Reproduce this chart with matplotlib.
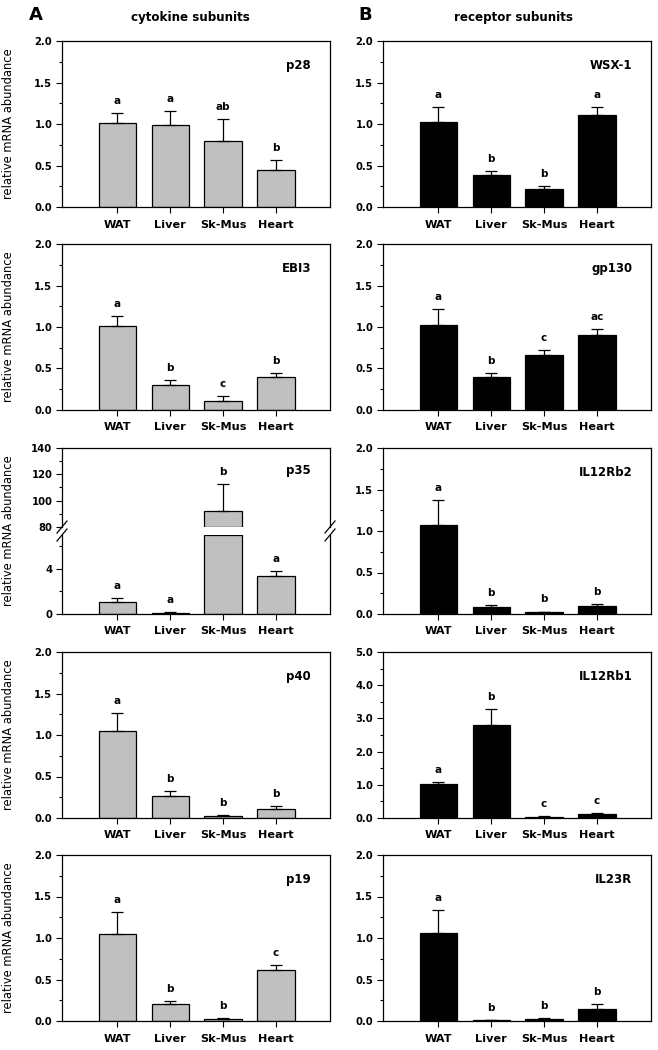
import matplotlib.pyplot as plt
from matplotlib.ticker import MultipleLocator, FixedLocator
import numpy as np

plt.rcParams['font.family'] = ['DejaVu Sans']
plt.rcParams['font.weight'] = 'bold'

tissues = ['WAT', 'Liver', 'Sk-Mus', 'Heart']

# cytokine subunits (column A)
p28 = [1.01, 0.99, 0.79, 0.45]
p28_err = [0.12, 0.17, 0.27, 0.12]
p28_sig = ['a', 'a', 'ab', 'b']

ebi3 = [1.01, 0.30, 0.11, 0.40]
ebi3_err = [0.12, 0.06, 0.06, 0.05]
ebi3_sig = ['a', 'b', 'c', 'b']

p35 = [1.1, 0.12, 92.0, 3.4]
p35_err = [0.3, 0.05, 21.0, 0.45]
p35_sig = ['a', 'a', 'b', 'a']

p40 = [1.05, 0.27, 0.03, 0.11]
p40_err = [0.22, 0.06, 0.01, 0.03]
p40_sig = ['a', 'b', 'b', 'b']

p19 = [1.05, 0.21, 0.03, 0.61]
p19_err = [0.26, 0.03, 0.01, 0.07]
p19_sig = ['a', 'b', 'b', 'c']

# receptor subunits (column B)
wsx1 = [1.03, 0.39, 0.22, 1.11]
wsx1_err = [0.18, 0.04, 0.03, 0.09]
wsx1_sig = ['a', 'b', 'b', 'a']

gp130 = [1.03, 0.40, 0.66, 0.90]
gp130_err = [0.19, 0.04, 0.06, 0.07]
gp130_sig = ['a', 'b', 'c', 'ac']

il12rb2 = [1.07, 0.09, 0.02, 0.10]
il12rb2_err = [0.30, 0.02, 0.01, 0.02]
il12rb2_sig = ['a', 'b', 'b', 'b']

il12rb1 = [1.02, 2.79, 0.04, 0.12]
il12rb1_err = [0.07, 0.48, 0.01, 0.04]
il12rb1_sig = ['a', 'b', 'c', 'c']

il23r = [1.06, 0.01, 0.03, 0.15]
il23r_err = [0.28, 0.005, 0.01, 0.05]
il23r_sig = ['a', 'b', 'b', 'b']

GRAY = '#c0c0c0'
W, H = 658, 1050
fig = plt.figure(figsize=(W / 100, H / 100), dpi=100)


def px_axes(left, top, w, h):
    return fig.add_axes([left / W, 1 - (top + h) / H, w / W, h / H])


def base_style(ax):
    for s in ax.spines.values():
        s.set_linewidth(0.9)
    ax.set_xlim(-1.04, 4.02)
    ax.tick_params(axis='y', which='major', direction='out', length=4, width=0.8, labelsize=7.2, pad=3)
    ax.tick_params(axis='y', which='minor', direction='out', length=2.5, width=0.8)
    ax.tick_params(axis='x', direction='out', length=4, width=0.8, labelsize=8.1, pad=5)


def draw_bars(ax, vals, errs, sig, color, lo=0, hi=None):
    x = np.arange(len(vals))
    vals = np.array(vals, dtype=float)
    errs = np.array(errs, dtype=float)
    top = np.inf if hi is None else hi
    show = vals > lo
    height = np.clip(vals, lo, top) - lo
    ax.bar(x[show], height[show], 0.7, bottom=lo, color=color, edgecolor='k',
           linewidth=0.9, zorder=2)
    ok = show & (vals + errs <= top)
    ax.errorbar(x[ok], vals[ok], yerr=[np.zeros(ok.sum()), errs[ok]],
                fmt='none', ecolor='k', elinewidth=0.9, capsize=4, capthick=0.9, zorder=3)
    for i in x[ok]:
        ax.annotate(sig[i], (i, vals[i] + errs[i]), xytext=(0, 6.5), textcoords='offset points',
                    ha='center', va='baseline', fontsize=7.5)


def panel(left, top, vals, errs, sig, name, color, ymax=2.0, step=0.5, ylabel=True):
    ax = px_axes(left, top, 268, 166)
    draw_bars(ax, vals, errs, sig, color)
    base_style(ax)
    ax.set_ylim(0, ymax)
    ax.yaxis.set_major_locator(MultipleLocator(step))
    ax.yaxis.set_minor_locator(MultipleLocator(step / 2))
    ax.yaxis.set_major_formatter('{x:.1f}')
    ax.set_xticks(np.arange(4), tissues)
    ax.text(0.93, 0.855, name, transform=ax.transAxes, ha='right', va='center', fontsize=8.5)
    if ylabel:
        ax.set_ylabel('relative mRNA abundance', fontsize=8.3)
        ax.yaxis.set_label_coords(-47 / 268, 0.5)
    return ax


rows = [41, 244, 448, 652, 855]
LX, RX = 62, 383

panel(LX, rows[0], p28, p28_err, p28_sig, 'p28', GRAY)
panel(LX, rows[1], ebi3, ebi3_err, ebi3_sig, 'EBI3', GRAY)
panel(LX, rows[3], p40, p40_err, p40_sig, 'p40', GRAY)
panel(LX, rows[4], p19, p19_err, p19_sig, 'p19', GRAY)

panel(RX, rows[0], wsx1, wsx1_err, wsx1_sig, 'WSX-1', 'k', ylabel=False)
panel(RX, rows[1], gp130, gp130_err, gp130_sig, 'gp130', 'k', ylabel=False)
panel(RX, rows[2], il12rb2, il12rb2_err, il12rb2_sig, 'IL12Rb2', 'k', ylabel=False)
panel(RX, rows[3], il12rb1, il12rb1_err, il12rb1_sig, 'IL12Rb1', 'k', ymax=5.0, step=1.0, ylabel=False)
panel(RX, rows[4], il23r, il23r_err, il23r_sig, 'IL23R', 'k', ylabel=False)

# p35 with broken y axis
up = px_axes(LX, rows[2], 268, 79)
low = px_axes(LX, rows[2] + 87, 268, 79)
draw_bars(up, p35, p35_err, p35_sig, GRAY, lo=80, hi=140)
draw_bars(low, p35, p35_err, p35_sig, GRAY, lo=0, hi=7)
for ax in (up, low):
    base_style(ax)
up.set_ylim(80, 140)
up.yaxis.set_major_locator(MultipleLocator(20))
up.yaxis.set_minor_locator(MultipleLocator(10))
up.spines['bottom'].set_visible(False)
up.set_xticks([])
low.set_ylim(0, 7)
low.yaxis.set_major_locator(FixedLocator([0, 4]))
low.yaxis.set_minor_locator(FixedLocator([2, 6]))
low.spines['top'].set_visible(False)
low.set_xticks(np.arange(4), tissues)
up.text(0.93, 0.71, 'p35', transform=up.transAxes, ha='right', va='center', fontsize=8.5)
low.set_ylabel('relative mRNA abundance', fontsize=8.3)
low.yaxis.set_label_coords(-47 / 268, (614 - 531) / 79)

# break marks
dx, dy = 5 / 268, 6 / 79
for xs in (0, 1):
    up.plot([xs - dx, xs + dx], [-dy, dy], color='k', lw=0.9, transform=up.transAxes, clip_on=False)
    low.plot([xs - dx, xs + dx], [1 - dy, 1 + dy], color='k', lw=0.9, transform=low.transAxes, clip_on=False)

# column headers
fig.text(36 / W, 1 - 15 / H, 'A', fontsize=13, ha='center', va='center')
fig.text(190 / W, 1 - 17 / H, 'cytokine subunits', fontsize=8.6, ha='center', va='center')
fig.text(365 / W, 1 - 15 / H, 'B', fontsize=13, ha='center', va='center')
fig.text(513 / W, 1 - 17 / H, 'receptor subunits', fontsize=8.6, ha='center', va='center')

plt.savefig('out.png', dpi=100)
